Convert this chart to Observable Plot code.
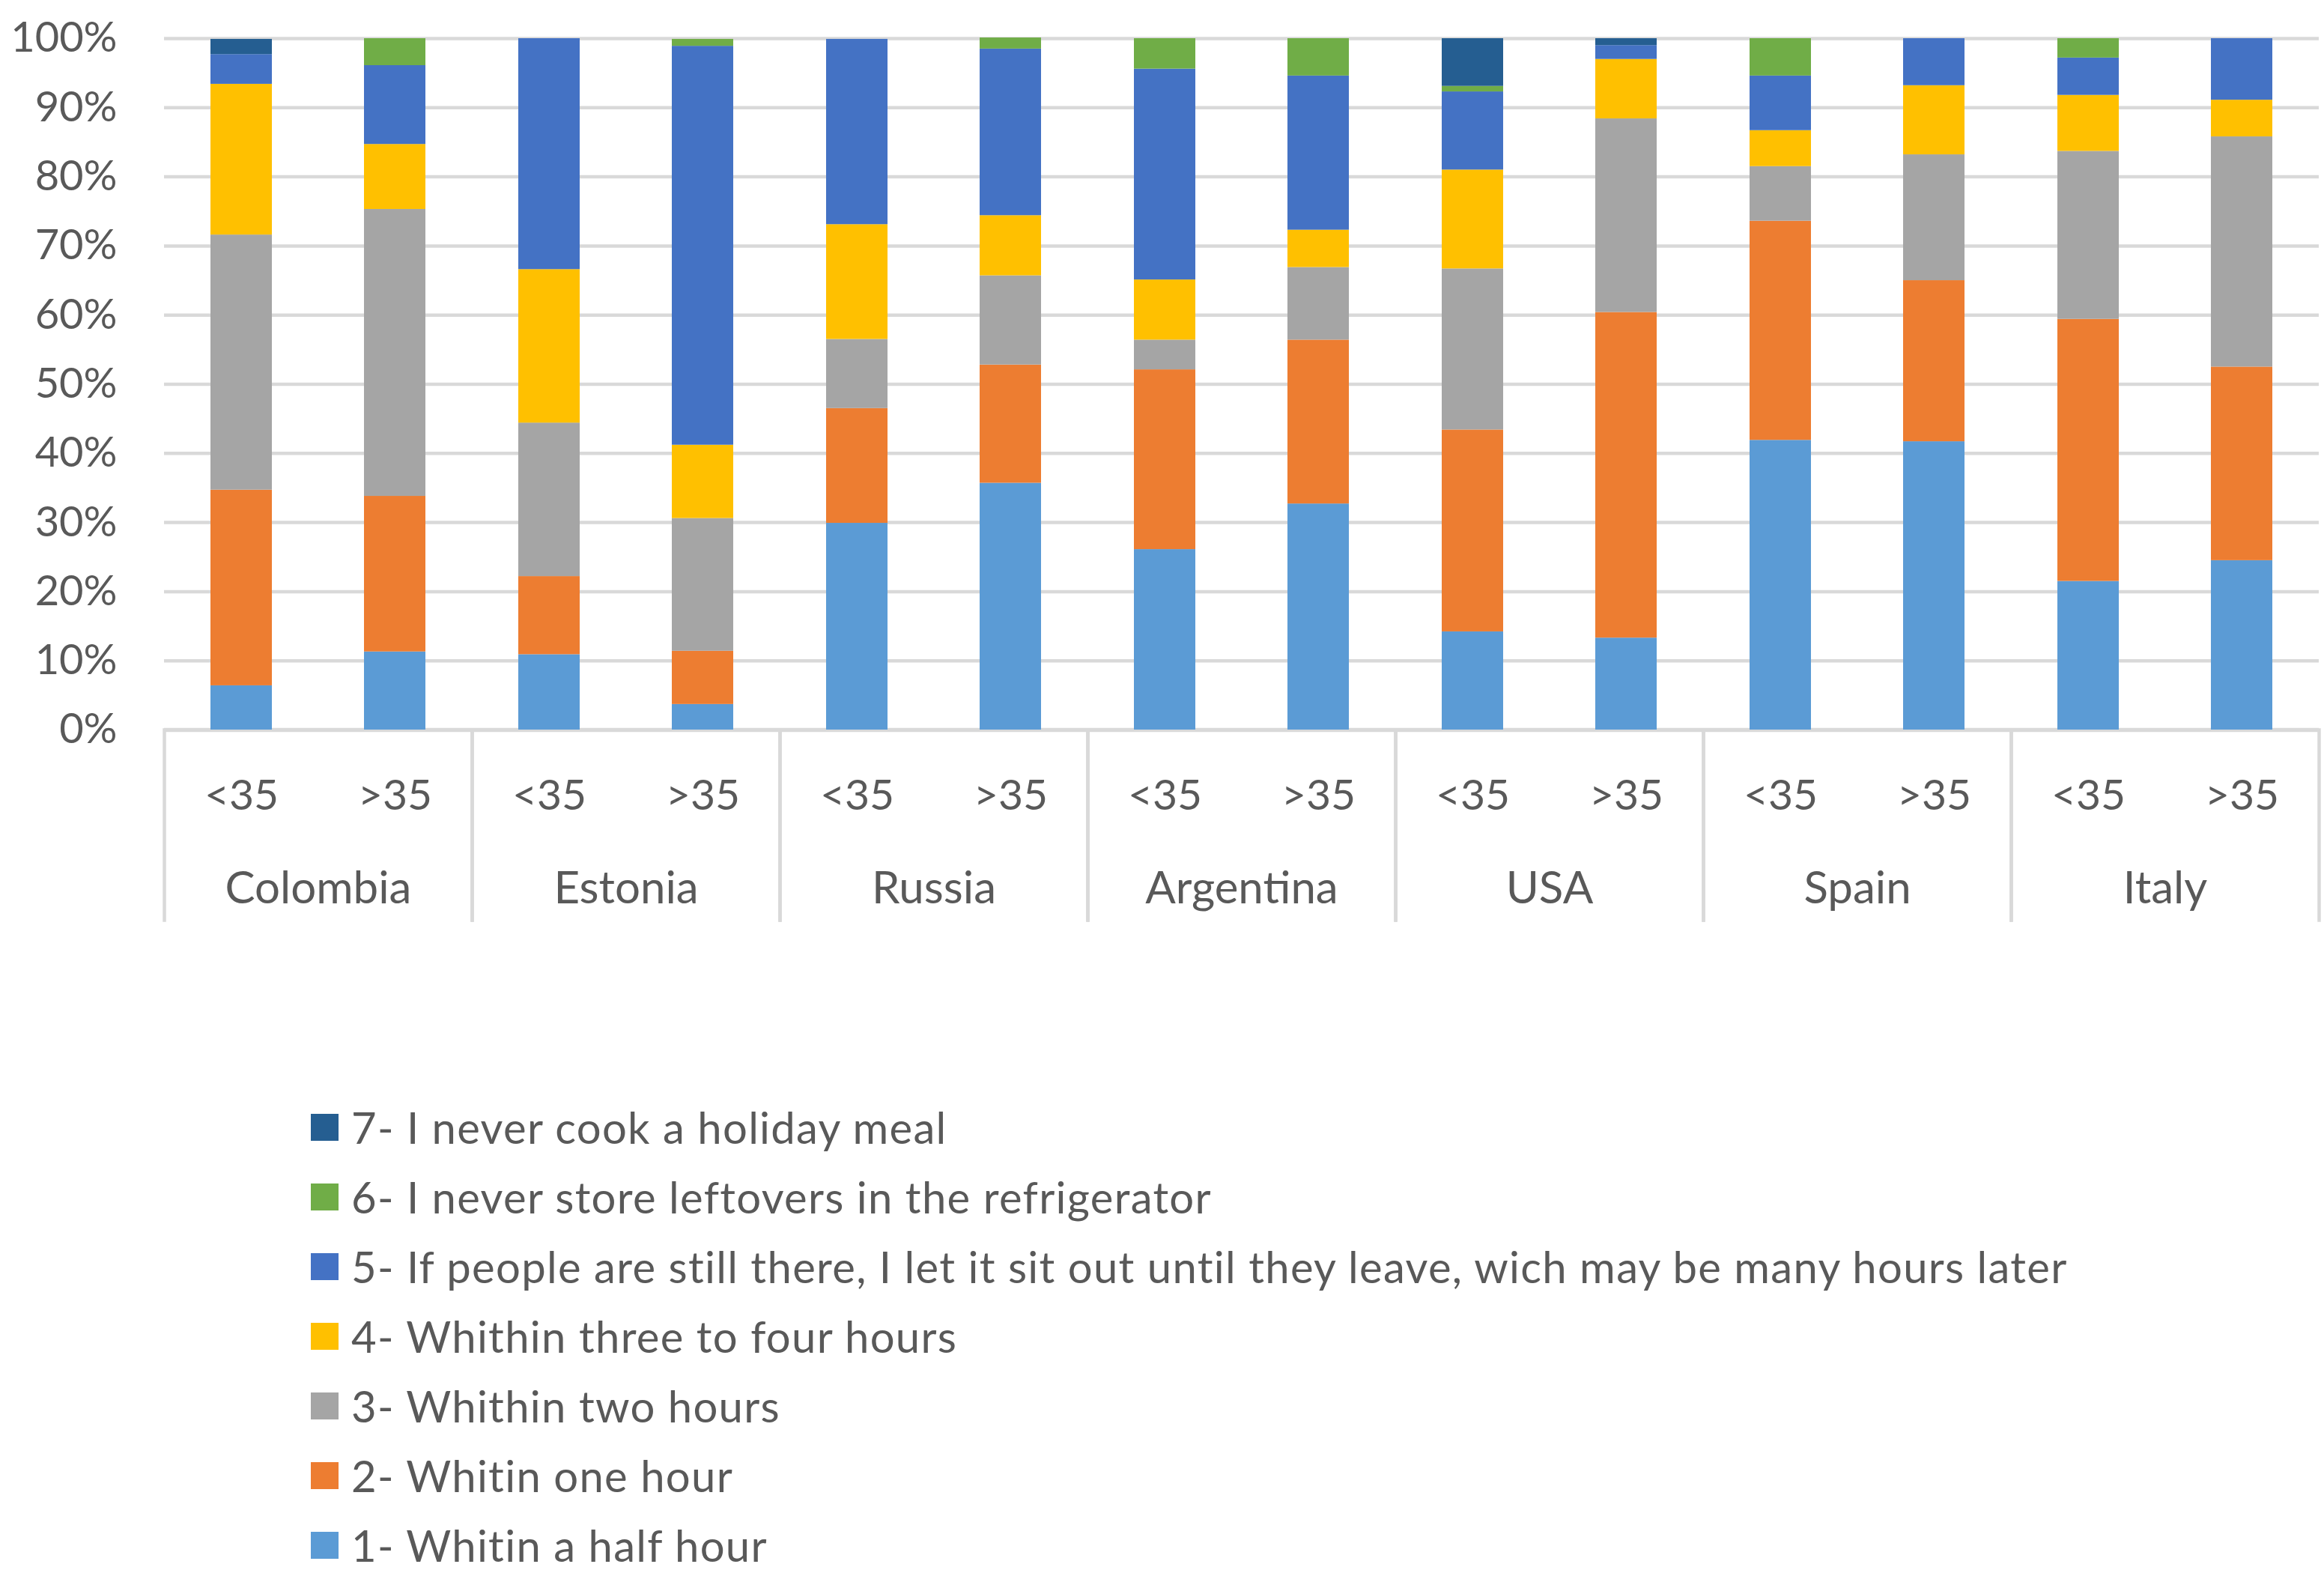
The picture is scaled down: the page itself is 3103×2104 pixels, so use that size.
<!DOCTYPE html>
<html><head><meta charset="utf-8">
<script src="https://cdn.jsdelivr.net/npm/d3@7"></script>
<script src="https://cdn.jsdelivr.net/npm/@observablehq/plot@0.6"></script>
<style>
body{margin:0;background:#fff;font-family:Lato,sans-serif;}
#wrap{position:relative;width:3103px;height:2104px;background:#fff;}
#legend{position:absolute;left:415px;top:1458px;}
.row{display:flex;align-items:center;height:93.1px;}
.sw{width:37px;height:36px;margin-right:17px;flex:none;}
.lab{font-size:58px;letter-spacing:1.3px;color:#595959;white-space:nowrap;line-height:1.2;}
</style></head><body><div id="wrap"><div id="chart"></div><div id="legend"></div></div>
<script>
const countries = ["Colombia", "Estonia", "Russia", "Argentina", "USA", "Spain", "Italy"];
const ages = ["<35", ">35"];
const seriesLabels = [
  "1- Whitin a half hour",
  "2- Whitin one hour",
  "3- Whithin two hours",
  "4- Whithin three to four hours",
  "5- If people are still there, I let it sit out until they leave, wich may be many hours later",
  "6- I never store leftovers in the refrigerator",
  "7- I never cook a holiday meal"
];
const seriesColors = ["#5B9BD5", "#ED7D31", "#A5A5A5", "#FFC000", "#4472C4", "#70AD47", "#255E91"];
const yTicks = [0, 0.1, 0.2, 0.3, 0.4, 0.5, 0.6, 0.7, 0.8, 0.9, 1];
// values in %, order: Colombia<35, Colombia>35, Estonia<35, Estonia>35, Russia<35, Russia>35, Argentina<35, Argentina>35, USA<35, USA>35, Spain<35, Spain>35, Italy<35, Italy>35
const s1 = [6.4, 11.3, 10.9, 3.7, 29.9, 35.7, 26.1, 32.7, 14.2, 13.3, 41.9, 41.7, 21.5, 24.5];
const s2 = [28.3, 22.5, 11.3, 7.7, 16.6, 17.1, 26.0, 23.7, 29.2, 47.1, 31.7, 23.3, 37.9, 28.0];
const s3 = [36.9, 41.5, 22.2, 19.2, 10.0, 12.9, 4.3, 10.5, 23.3, 28.0, 7.9, 18.2, 24.3, 33.3];
const s4 = [21.8, 9.4, 22.2, 10.6, 16.6, 8.7, 8.7, 5.4, 14.3, 8.6, 5.2, 10.0, 8.1, 5.3];
const s5 = [4.3, 11.4, 33.4, 57.7, 26.8, 24.1, 30.5, 22.3, 11.3, 2.0, 7.9, 6.8, 5.4, 8.9];
const s6 = [0, 3.9, 0, 1.0, 0, 1.6, 4.4, 5.4, 0.8, 0, 5.4, 0, 2.8, 0];
const s7 = [2.2, 0, 0, 0, 0, 0, 0, 0, 6.9, 1.0, 0, 0, 0, 0];

const seriesValues = [s1, s2, s3, s4, s5, s6, s7];
const rows = [];
const tickRows = [];
countries.forEach((c, ci) => ages.forEach((a, ai) => {
  const k = ci * 2 + ai;
  tickRows.push({country: c, age: a});
  seriesValues.forEach((arr, j) => rows.push({country: c, age: a, series: seriesLabels[j], value: arr[k] / 100}));
}));

const grid = "#D9D9D9";
const txt = "#595959";
const chart = Plot.plot({
  width: 3103, height: 1260,
  marginLeft: 217, marginRight: 6, marginTop: 51, marginBottom: 286,
  style: {fontFamily: "Lato, sans-serif", fontSize: "56px", color: txt, background: "white", overflow: "visible"},
  fx: {domain: countries, padding: 0, axis: null},
  x: {domain: ages, paddingInner: 0.6, paddingOuter: 0.3, axis: null},
  y: {domain: [0, 1], axis: null},
  color: {domain: seriesLabels, range: seriesColors},
  marks: [
    Plot.gridY({ticks: yTicks, stroke: grid, strokeOpacity: 1, strokeWidth: 4.5}),
    Plot.ruleY([0], {stroke: grid, strokeWidth: 5.5}),
    Plot.barY(rows, {fx: "country", x: "age", y: "value", fill: "series"}),
    Plot.frame({anchor: "left", stroke: grid, strokeOpacity: 1, strokeWidth: 4.5, insetTop: 923, insetBottom: -254}),
    Plot.frame({anchor: "right", stroke: grid, strokeOpacity: 1, strokeWidth: 4.5, insetTop: 923, insetBottom: -254}),
    Plot.text(tickRows, {fx: "country", x: "age", text: "age", frameAnchor: "bottom", dy: 88, lineAnchor: "middle", fill: txt, fontSize: 57}),
    Plot.text(countries, {fx: d => d, text: d => d, frameAnchor: "bottom", dy: 212, lineAnchor: "middle", fill: txt, fontSize: 60}),
    Plot.axisY({ticks: yTicks, tickFormat: d3.format(".0%"), tickSize: 0, tickPadding: 63, fontSize: 56, fill: txt, label: null})
  ]
});
document.getElementById("chart").appendChild(chart);

const legend = d3.select("#legend");
seriesLabels.map((s, i) => ({s, c: seriesColors[i]})).reverse().forEach(d => {
  const r = legend.append("div").attr("class", "row");
  r.append("div").attr("class", "sw").style("background", d.c);
  r.append("div").attr("class", "lab").text(d.s);
});
</script>
</body></html>
